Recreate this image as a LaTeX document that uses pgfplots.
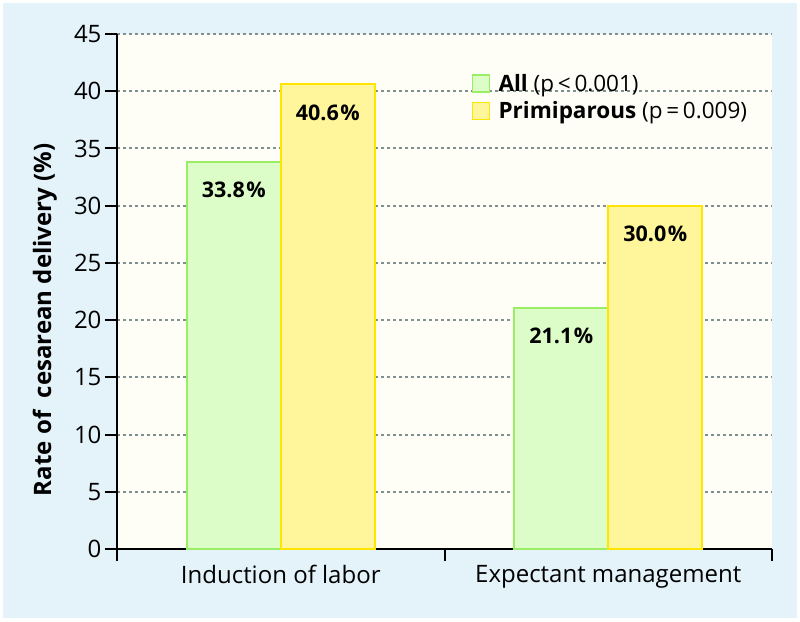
\documentclass[border=0pt]{standalone}
\usepackage{pgfplots}
\pgfplotsset{compat=1.18}
\usepackage{fontspec}
\setmainfont{Open Sans}
\definecolor{bgblue}{HTML}{E4F3F9}
\definecolor{cream}{HTML}{FEFEF6}
\definecolor{gfill}{HTML}{DCFCC8}
\definecolor{gedge}{HTML}{99EE66}
\definecolor{yfill}{HTML}{FFF59A}
\definecolor{yedge}{HTML}{FFE500}
\definecolor{gridgray}{HTML}{809090}
\newcommand{\tickfont}{\fontsize{24}{28}\selectfont}
\newcommand{\catfont}{\fontsize{24}{28}\selectfont}
\newcommand{\legfont}{\fontsize{22.5}{26}\selectfont}
\newcommand{\valfont}{\fontsize{21.5}{25}\selectfont}
\pgfplotsset{sqlegend/.style={legend image code/.code={
  \draw[##1,line width=1.3pt] (0pt,-8.5pt) rectangle (17pt,8.5pt);
  \path (23pt,0pt);}}}

\begin{document}
\begin{tikzpicture}
% page frame: white rim, light blue panel
\path[use as bounding box, fill=white] (-117pt,-72pt) rectangle (683pt,549pt);
\fill[bgblue] (-114pt,-69pt) rectangle (680pt,546pt);
\begin{axis}[
  at={(0pt,0pt)}, anchor=south west,
  scale only axis, width=655pt, height=515pt,
  axis x line*=bottom, axis y line*=left,
  axis line style={-, black, line width=2pt},
  axis background/.style={fill=cream},
  xmin=-0.5, xmax=1.5, ymin=0, ymax=45,
  ybar=0pt, bar width=94pt,
  xtick={0,1},
  xticklabels={Induction of labor, Expectant management},
  major x tick style={draw=none},
  minor xtick={-0.5,0.5,1.5},
  ytick={0,5,...,45},
  tick align=outside,
  major tick length=12pt, minor tick length=12pt,
  tick style={black, line width=2pt},
  ymajorgrids,
  major grid style={gridgray, line width=2pt, dash pattern=on 3pt off 3pt},
  yticklabel style={font=\tickfont},
  xticklabel style={font=\catfont, yshift=-1pt},
  /pgf/number format/assume math mode=true,
  ylabel={Rate of\ \ cesarean delivery (\%)},
  every axis y label/.style={at={(axis description cs:-0.11,0.445)}, rotate=90,
    anchor=center, font=\fontsize{24}{28}\selectfont\bfseries},
  legend style={draw=none, fill=none, at={(0.537,0.93)}, anchor=north west,
    font=\legfont, row sep=5pt, legend cell align=left},
  nodes near coords={\pgfmathprintnumber[fixed,fixed zerofill,precision=1,assume math mode=true]{\pgfplotspointmeta}\kern1.5pt\%},
  every node near coord/.append style={anchor=center, yshift=-28pt, font=\valfont\bfseries, black},
]
\addplot[fill=gfill, draw=gedge, line width=2pt, sqlegend] coordinates {(0,33.8) (1,21.1)};
\addplot[fill=yfill, draw=yedge, line width=2pt, sqlegend] coordinates {(0,40.6) (1,30.0)};
\legend{\textbf{All} (p\,<\,0.001), \textbf{Primiparous} (p\,=\,0.009)}
\end{axis}
\end{tikzpicture}
\end{document}
